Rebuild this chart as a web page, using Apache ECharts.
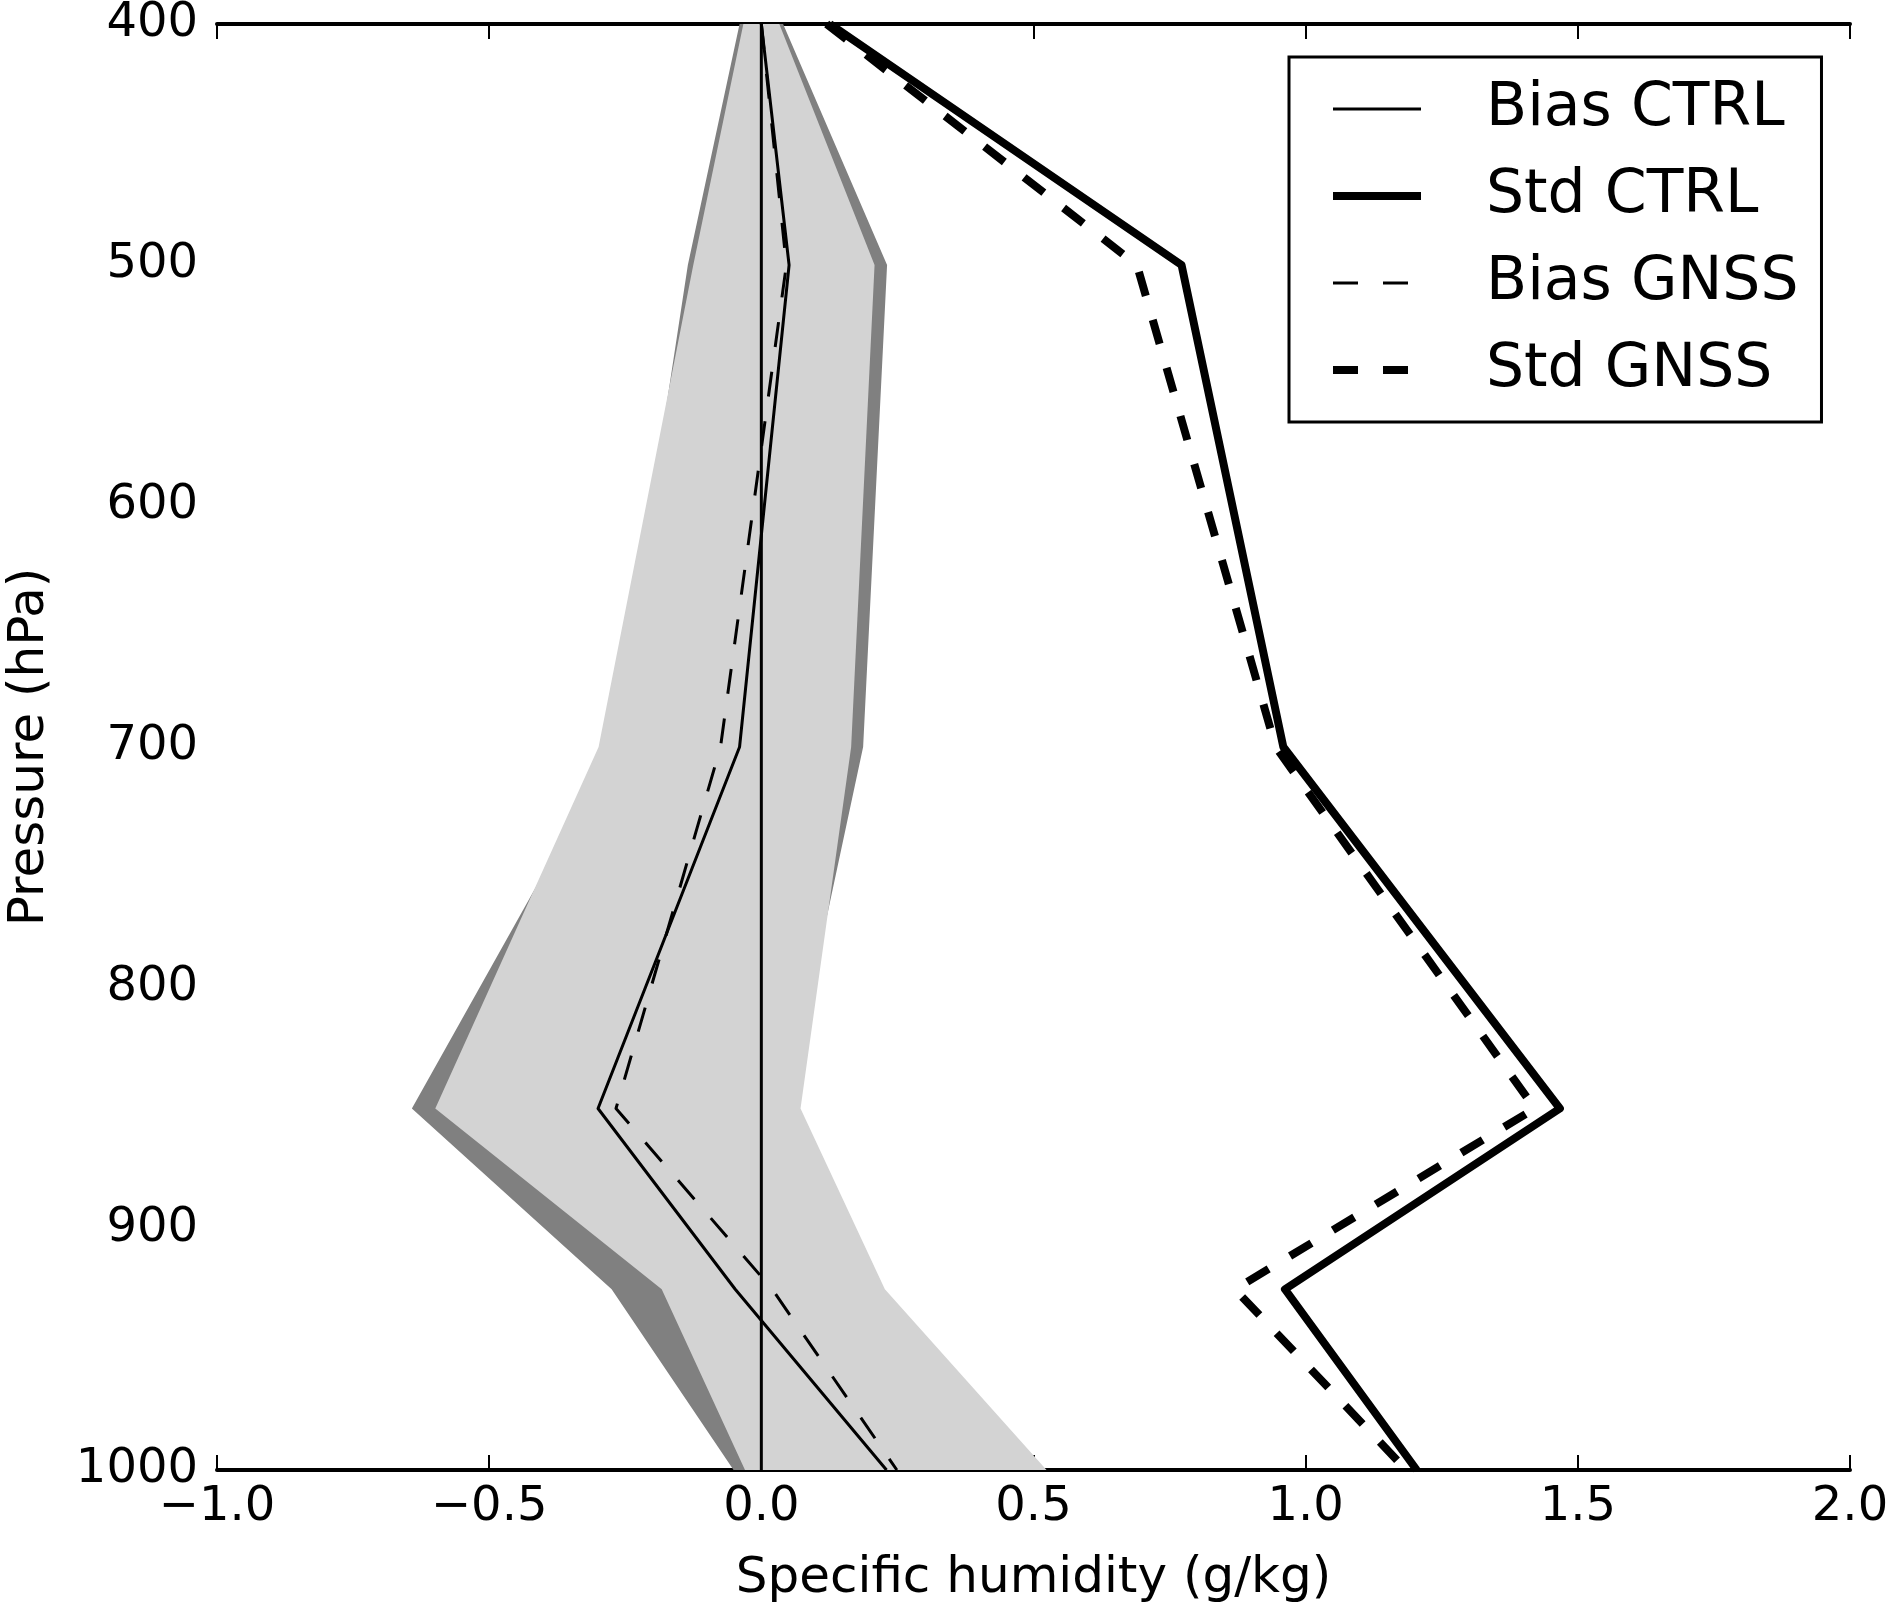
<!DOCTYPE html>
<html>
<head>
<meta charset="utf-8">
<script src="https://cdn.jsdelivr.net/npm/echarts@6/dist/echarts.min.js"></script>
<style>
  html, body { margin: 0; padding: 0; background: #fff; }
  #chart { width: 1890px; height: 1609px; }
</style>
</head>
<body>
<div id="chart"></div>
<script>
// pressure levels (hPa)
var levels = [400, 500, 700, 850, 925, 1000];
// bias and std profiles (g/kg)
var biasCtrl = [0.0, 0.051, -0.04, -0.30, -0.048, 0.23];
var biasGnss = [0.0, 0.046, -0.075, -0.267, 0.02, 0.249];
var stdCtrl = [0.126, 0.772, 0.959, 1.467, 0.962, 1.204];
var stdGnss = [0.12, 0.69, 0.945, 1.421, 0.87, 1.185];
// shaded spread, dark (CTRL) under light (GNSS)
var darkLo = [-0.04, -0.135, -0.27, -0.642, -0.275, -0.051];
var darkHi = [0.04, 0.231, 0.187, 0.045, 0.18, 0.51];
var lightLo = [-0.033, -0.125, -0.299, -0.599, -0.183, -0.03];
var lightHi = [0.033, 0.208, 0.165, 0.072, 0.227, 0.524];

var font = "DejaVu Sans";
var thin = 3, thick = 8, dash = [25, 25];

function pairs(vals) {
  return vals.map(function (v, i) { return [v, levels[i]]; });
}

// polygon between lo and hi profiles
function band(name, lo, hi, color) {
  return {
    name: name,
    type: "custom",
    silent: true,
    encode: { x: 0, y: 1 },
    data: [[lo[0], levels[0]]],
    renderItem: function (params, api) {
      var pts = [];
      for (var i = 0; i < levels.length; i++) pts.push(api.coord([lo[i], levels[i]]));
      for (var j = levels.length - 1; j >= 0; j--) pts.push(api.coord([hi[j], levels[j]]));
      return { type: "polygon", shape: { points: pts }, style: { fill: color } };
    }
  };
}

function style(width, dashed) {
  return { color: "#000", width: width, type: dashed ? dash : "solid", cap: "butt", join: "round" };
}

function line(name, vals, width, dashed) {
  return { name: name, type: "line", data: pairs(vals), symbol: "none", lineStyle: style(width, dashed) };
}

var myChart = echarts.init(document.getElementById("chart"));
var axisLine = { lineStyle: { color: "#000", width: 4 } };
var tick = { inside: true, length: 15, lineStyle: { color: "#000", width: 2 } };

var option = {
  animation: false,
  backgroundColor: "#fff",
  grid: { left: 217, right: 40, top: 24, bottom: 139, containLabel: false, outerBoundsMode: "none" },
  xAxis: [
    {
      type: "value", min: -1, max: 2, interval: 0.5, position: "bottom",
      axisLine: axisLine, axisTick: tick, splitLine: { show: false },
      axisLabel: {
        color: "#000", fontFamily: font, fontSize: 48, margin: 14,
        formatter: function (v) { return (v < 0 ? "\u2212" : "") + Math.abs(v).toFixed(1); }
      },
      name: "Specific humidity (g/kg)", nameLocation: "middle", nameGap: 84,
      nameTextStyle: { color: "#000", fontFamily: font, fontSize: 50 }
    },
    {
      type: "value", min: -1, max: 2, interval: 0.5, position: "top",
      axisLine: axisLine, axisTick: tick, axisLabel: { show: false }, splitLine: { show: false }
    }
  ],
  yAxis: [
    {
      type: "value", min: 400, max: 1000, interval: 100, inverse: true, position: "left",
      axisLine: axisLine, axisTick: tick, splitLine: { show: false },
      axisLabel: {
        color: "#000", fontFamily: font, fontSize: 48, margin: 19,
        formatter: function (v) { return String(v); }
      },
      name: "Pressure (hPa)", nameLocation: "middle", nameGap: 162, nameRotate: 90,
      nameTextStyle: { color: "#000", fontFamily: font, fontSize: 50 }
    },
    {
      type: "value", min: 400, max: 1000, interval: 100, inverse: true, position: "right",
      axisLine: axisLine, axisTick: tick, axisLabel: { show: false }, splitLine: { show: false }
    }
  ],
  legend: {
    orient: "vertical",
    left: 1289, top: 57,
    data: [
      { name: "Bias CTRL", lineStyle: style(thin, false) },
      { name: "Std CTRL", lineStyle: style(thick, false) },
      { name: "Bias GNSS", lineStyle: style(thin, true) },
      { name: "Std GNSS", lineStyle: style(thick, true) }
    ],
    itemWidth: 88, itemHeight: 20, itemGap: 27,
    borderColor: "#000", borderWidth: 3, borderRadius: 0,
    padding: [22, 23, 22, 40],
    itemStyle: { opacity: 0 },
    textStyle: { color: "#000", fontFamily: font, fontSize: 60, lineHeight: 58, padding: [0, 0, 0, 60] }
  },
  series: [
    band("dark", darkLo, darkHi, "#808080"),
    band("light", lightLo, lightHi, "#d3d3d3"),
    {
      name: "zero", type: "line", symbol: "none",
      data: [[0, levels[0]], [0, levels[levels.length - 1]]],
      lineStyle: { color: "#000", width: thin }
    },
    line("Bias CTRL", biasCtrl, thin, false),
    line("Bias GNSS", biasGnss, thin, true),
    line("Std CTRL", stdCtrl, thick, false),
    line("Std GNSS", stdGnss, thick, true)
  ]
};
myChart.setOption(option);
</script>
</body>
</html>
